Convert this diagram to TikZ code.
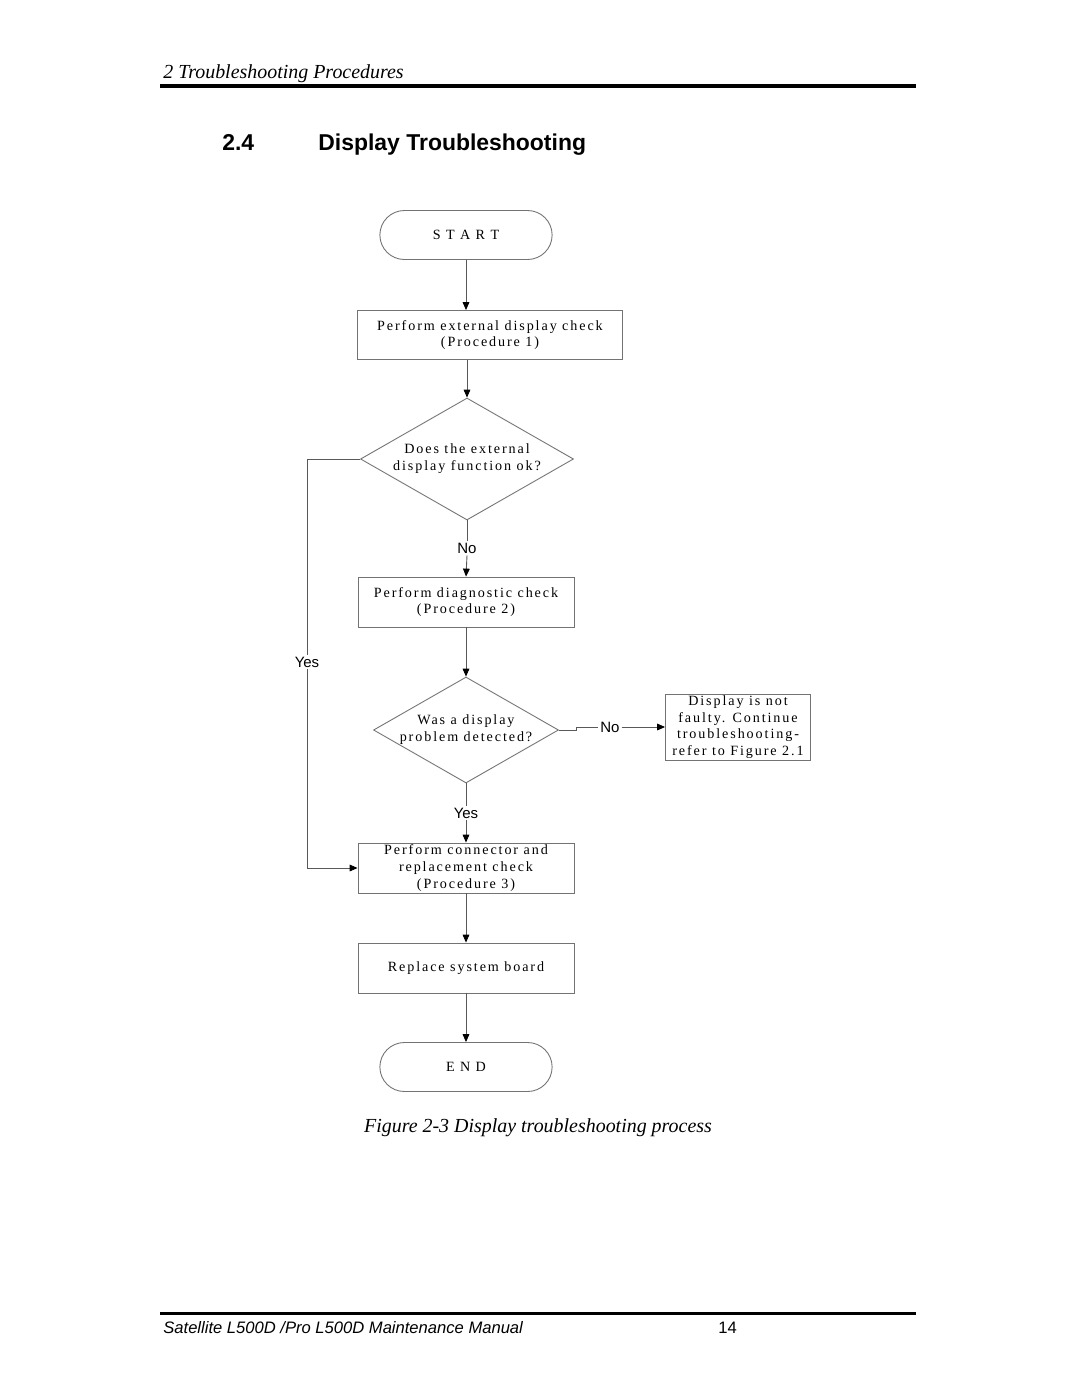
\documentclass[tikz,border=0pt]{standalone}
\usepackage{fontspec}
\setmainfont{Liberation Serif}
\newfontfamily\armfont{Liberation Sans}
\newfontfamily\flowfont[LetterSpace=13.5]{Liberation Serif}
\usetikzlibrary{shapes.geometric,shapes.misc,arrows.meta}
\newcommand\pxu{0.5667pt}

\begin{document}
\begin{tikzpicture}[x=\pxu,y=-\pxu,
    flowtext/.style={font=\flowfont\fontsize{8}{9.6}\selectfont,align=center},
    procbox/.style={flowtext,draw=black!55,line width=0.5pt,inner sep=0pt,
      minimum width=216*\pxu,minimum height=50*\pxu},
    termbox/.style={flowtext,draw=black!55,line width=0.5pt,rounded rectangle,
      minimum width=184*\pxu,minimum height=49*\pxu},
    decision/.style={flowtext,draw=black!55,line width=0.5pt,diamond,inner sep=0pt,aspect=1.75},
    answer/.style={font=\armfont\fontsize{8.5}{10}\selectfont,inner sep=1pt},
    link/.style={draw=black!65,line width=0.5pt},
    arr/.style={link,-{Triangle[length=4.5pt,width=3.8pt,color=black]}}]
  \useasboundingbox[fill=white] (0,0) rectangle (1080,1397);

  \node[anchor=base west,font=\itshape\fontsize{11.3}{13}\selectfont,inner sep=0pt] (chapter) at (163,78) {2 Troubleshooting Procedures};
  \draw[line width=2.3pt] (160,86) -- (916,86);
  \node[anchor=base west,font=\armfont\bfseries\fontsize{13}{15}\selectfont,inner sep=0pt] (secnum) at (222,150) {2.4};
  \node[anchor=base west,font=\armfont\bfseries\fontsize{13}{15}\selectfont,inner sep=0pt] (sectitle) at (318,150) {Display Troubleshooting};

  \node[termbox] (start) at (466,235) {S T A R T};
  \node[procbox,minimum width=265*\pxu,minimum height=49*\pxu] (extcheck) at (490,335) {Perform external display check\\(Procedure 1)};
  \node[decision,minimum width=213*\pxu,minimum height=122*\pxu] (extok) at (467,459) {Does the external\\display function ok?};
  \node[answer] (no1) at (467,548) {No};
  \node[procbox] (diagcheck) at (466,602) {Perform diagnostic check\\(Procedure 2)};
  \node[decision,minimum width=185*\pxu,minimum height=106*\pxu] (detected) at (466,730) {Was a display\\problem detected?};
  \node[answer] (no2) at (610,727) {No};
  \node[procbox,minimum width=145*\pxu,minimum height=66*\pxu,font=\flowfont\fontsize{8}{9.4}\selectfont] (notfaulty) at (738,727) {Display is not\\faulty. Continue\\troubleshooting-\\refer to Figure 2.1};
  \node[answer] (yes2) at (466,813) {Yes};
  \node[answer] (yes1) at (307,662) {Yes};
  \node[procbox] (conncheck) at (466,868) {Perform connector and\\replacement check\\(Procedure 3)};
  \node[procbox] (replace) at (466,968) {Replace system board};
  \node[termbox] (end) at (466,1067) {E N D};

  \draw[arr] (start.south) -- (start.south |- extcheck.north);
  \draw[arr] (extok.north |- extcheck.south) -- (extok.north);
  \draw[link] (extok.south) -- (no1.north);
  \draw[arr] (no1.south) -- (diagcheck.north);
  \draw[arr] (diagcheck.south) -- (detected.north);
  \draw[link] (detected.east) -- ++(17,0) -- ++(0,-3) -- (no2.west);
  \draw[arr] (no2.east) -- (notfaulty.west);
  \draw[link] (detected.south) -- (yes2.north);
  \draw[arr] (yes2.south) -- (conncheck.north);
  \draw[link] (extok.west) -| (yes1.north);
  \draw[arr] (yes1.south) |- (conncheck.west);
  \draw[arr] (conncheck.south) -- (replace.north);
  \draw[arr] (replace.south) -- (end.north);

  \node[font=\itshape\fontsize{11.3}{13}\selectfont,anchor=base,inner sep=0pt] (caption) at (538,1132) {Figure 2-3 Display troubleshooting process};
  \draw[line width=1.7pt] (160,1313) -- (916,1313);
  \node[anchor=base west,font=\armfont\itshape\fontsize{9.4}{11}\selectfont,inner sep=0pt] (manual) at (163,1333) {Satellite L500D /Pro L500D Maintenance Manual};
  \node[anchor=base west,font=\armfont\fontsize{9.4}{11}\selectfont,inner sep=0pt] (pagenum) at (718,1333) {14};
\end{tikzpicture}
\end{document}
